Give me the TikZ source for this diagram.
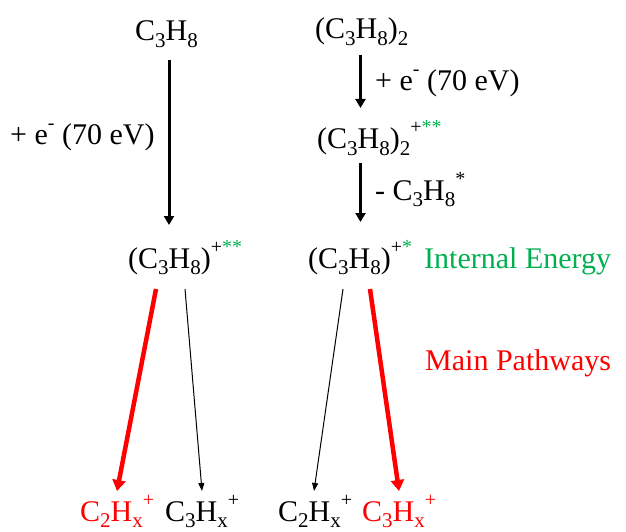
\documentclass[tikz,border=0pt]{standalone}
\usepackage{fontspec}
\setmainfont{Liberation Serif}
\usetikzlibrary{arrows.meta}
\definecolor{pgreen}{RGB}{0,176,80}
\definecolor{pred}{RGB}{255,0,0}
\newcommand\chsb[1]{\raisebox{-0.22em}{\fontsize{21}{21}\selectfont #1}}
\newcommand\chsp[1]{\raisebox{0.5em}{\fontsize{20}{20}\selectfont #1}}
\tikzset{
  lbl/.style={anchor=base west, inner sep=0pt, font=\fontsize{30}{34}\selectfont},
  thickarr/.style={line width=3pt, -{Triangle[length=9pt,width=10pt]}},
  thinarr/.style={line width=1pt, -{Triangle[length=8pt,width=6pt]}},
  redarr/.style={line width=4.5pt, pred, -{Triangle[length=11pt,width=13pt]}},
}
\begin{document}
\begin{tikzpicture}[x=1pt,y=-1pt]
\useasboundingbox (0,0) rectangle (626,532);
% top texts
\node[lbl] (c3h8) at (135,41) {C\chsb{3}H\chsb{8}};
\node[lbl] (dimer) at (315,39) {(C\chsb{3}H\chsb{8})\chsb{2}};
\node[lbl] (eleft) at (10,144) {+ e\chsp{-} (70 eV)};
\node[lbl] (eright) at (375,91) {+ e\chsp{-} (70 eV)};
\node[lbl] (dimerion) at (317,149) {(C\chsb{3}H\chsb{8})\chsb{2}\chsp{+\textcolor{pgreen}{**}}};
\node[lbl] (loss) at (375,200) {- C\chsb{3}H\chsb{8}\chsp{*}};
\node[lbl] (ionL) at (128,268) {(C\chsb{3}H\chsb{8})\chsp{+\textcolor{pgreen}{**}}};
\node[lbl] (ionR) at (308,268) {(C\chsb{3}H\chsb{8})\chsp{+\textcolor{pgreen}{*}}};
\node[lbl, text=pgreen] (ie) at (424,268) {Internal Energy};
\node[lbl, text=pred] (mp) at (425,370) {Main Pathways};
% bottom
\node[lbl, text=pred] (b1) at (80,521) {C\chsb{2}H\chsb{x}\chsp{+}};
\node[lbl] (b2) at (165,521) {C\chsb{3}H\chsb{x}\chsp{+}};
\node[lbl] (b3) at (278,521) {C\chsb{2}H\chsb{x}\chsp{+}};
\node[lbl, text=pred] (b4) at (362,521) {C\chsb{3}H\chsb{x}\chsp{+}};
% arrow endpoints
\coordinate (a1s) at (169,60);  \coordinate (a1e) at (169,225);
\coordinate (a2s) at (360.5,55); \coordinate (a2e) at (360.5,108);
\coordinate (a3s) at (360.5,163); \coordinate (a3e) at (360.5,222);
\coordinate (r1s) at (156,289); \coordinate (r1e) at (117,491);
\coordinate (k1s) at (185,289); \coordinate (k1e) at (202,491);
\coordinate (k2s) at (343,289); \coordinate (k2e) at (314,491);
\coordinate (r2s) at (370,289); \coordinate (r2e) at (399,491);
\draw[thickarr] (a1s) -- (a1e);
\draw[thickarr] (a2s) -- (a2e);
\draw[thickarr] (a3s) -- (a3e);
\draw[redarr] (r1s) -- (r1e);
\draw[redarr] (r2s) -- (r2e);
\draw[thinarr] (k1s) -- (k1e);
\draw[thinarr] (k2s) -- (k2e);
\end{tikzpicture}
\end{document}
